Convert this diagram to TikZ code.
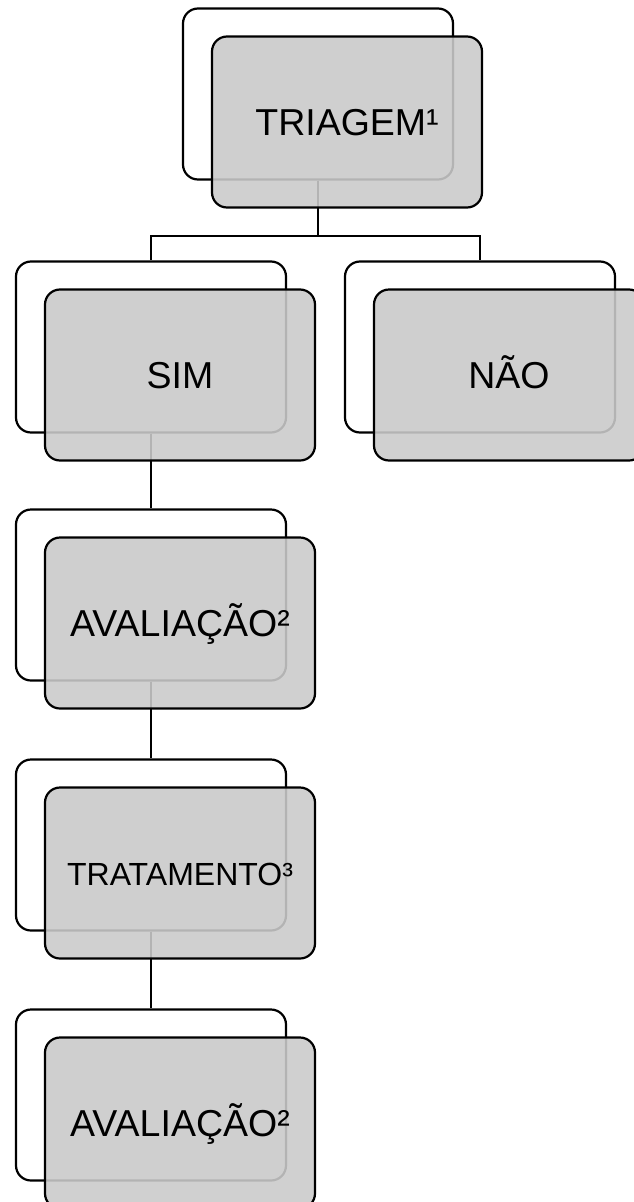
\documentclass[tikz,border=0pt]{standalone}
\usepackage{fontspec}
\setmainfont{Liberation Sans}
\definecolor{boxgray}{RGB}{202,202,202}
\tikzset{
  backbox/.style={draw, line width=2.2pt, rounded corners=15pt, fill=white,
    minimum width=270pt, minimum height=171pt, inner sep=0pt},
  frontbox/.style={backbox, fill=boxgray, fill opacity=.89, text opacity=1,
    font=\fontsize{37.5}{42}\selectfont, text height=32pt, text depth=5pt},
  link/.style={line width=2.2pt}
}
\begin{document}
\begin{tikzpicture}[x=1pt, y=-1pt]
\clip (0,0) rectangle (634,1202);
% back boxes
\node[backbox] (triB) at (318,94) {};
\node[backbox] (simB) at (151,347) {};
\node[backbox] (naoB) at (480,347) {};
\node[backbox] (av1B) at (151,595) {};
\node[backbox] (traB) at (151,845) {};
\node[backbox] (av2B) at (151,1095) {};
% connectors
\draw[link] (triB.south) -- ++(0,55) -| (simB.north);
\draw[link] (triB.south) -- ++(0,55) -| (naoB.north);
\draw[link] (simB.south) -- (av1B.north);
\draw[link] (av1B.south) -- (traB.north);
\draw[link] (traB.south) -- (av2B.north);
% front boxes
\node[frontbox] (tri) at (347,122) {TRIAGEM¹};
\node[frontbox] (sim) at (180,375) {SIM};
\node[frontbox] (nao) at (509,375) {NÃO};
\node[frontbox] (av1) at (180,623) {AVALIAÇÃO²};
\node[frontbox, font=\fontsize{32}{36}\selectfont, text height=29pt] (tra) at (180,873) {TRATAMENTO³};
\node[frontbox] (av2) at (180,1123) {AVALIAÇÃO²};
\end{tikzpicture}
\end{document}
